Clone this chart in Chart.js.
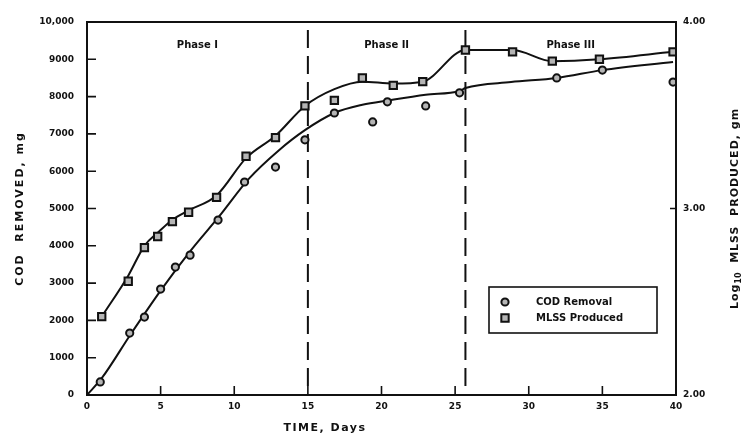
<!DOCTYPE html>
<html>
<head>
<meta charset="utf-8">
<title>COD removal and MLSS produced</title>
<script src="https://cdn.jsdelivr.net/npm/chart.js@4.4.0/dist/chart.umd.min.js"></script>
<style>
  html, body { margin: 0; padding: 0; background: #fff; }
</style>
</head>
<body>
<canvas id="codChart" width="755" height="440"></canvas>
<script>
// measured COD removal (mg) against time (days)
const codDays   = [0.9, 2.9, 3.9, 5.0, 6.0, 7.0, 8.9, 10.7, 12.8, 14.8, 16.8, 19.4, 20.4, 23.0, 25.3, 31.9, 35.0, 39.8];
const codValues = [350, 1660, 2090, 2840, 3430, 3750, 4690, 5710, 6110, 6840, 7560, 7320, 7860, 7750, 8100, 8500, 8710, 8390];

// measured log10 of MLSS produced (gm)
const mlssDays   = [1.0, 2.8, 3.9, 4.8, 5.8, 6.9, 8.8, 10.8, 12.8, 14.8, 16.8, 18.7, 20.8, 22.8, 25.7, 28.9, 31.6, 34.8, 39.8];
const mlssValues = [2.42, 2.61, 2.79, 2.85, 2.93, 2.98, 3.06, 3.28, 3.38, 3.55, 3.58, 3.70, 3.66, 3.68, 3.85, 3.84, 3.79, 3.80, 3.84];

// hand-fitted curves through each series
const codFitDays   = [0, 1, 3, 5, 7, 9, 11, 13, 14.8, 16.8, 18.7, 20.5, 23, 25.3, 25.7, 28.8, 31.9, 35, 39.8];
const codFitValues = [0, 450, 1650, 2800, 3850, 4800, 5800, 6550, 7100, 7560, 7780, 7900, 8050, 8150, 8230, 8390, 8500, 8710, 8930];
const mlssFitDays   = [1.0, 2.8, 3.9, 4.8, 5.8, 6.9, 8.8, 10.8, 12.8, 14.8, 16.8, 18.7, 20.8, 22.8, 25.7, 28.9, 31.6, 34.8, 39.8];
const mlssFitValues = [2.42, 2.64, 2.80, 2.87, 2.94, 2.99, 3.07, 3.27, 3.39, 3.55, 3.64, 3.68, 3.67, 3.68, 3.85, 3.85, 3.79, 3.80, 3.84];

// phase boundaries (days) and names
const phaseBounds = [0, 15, 25.7, 40];
const phaseNames  = ['Phase I', 'Phase II', 'Phase III'];

const seriesNames = ['COD Removal', 'MLSS Produced'];

const ink = '#111';
const FONT = 'DejaVu Sans';

const pts = (xs, ys) => xs.map((d, i) => ({ x: d, y: ys[i] }));

const circleStyle = { pointStyle: 'circle', radius: 3.6, borderWidth: 2, borderColor: ink, backgroundColor: '#b5b5b5' };
const squareStyle = { pointStyle: 'rect', radius: 5.2, borderWidth: 2, borderColor: ink, backgroundColor: '#b5b5b5' };

function drawRotated(ctx, parts, cx, cy, angle) {
  // parts: [{text, font, dy}] laid out along one baseline, centred on (cx, cy)
  ctx.save();
  ctx.translate(cx, cy);
  ctx.rotate(angle);
  ctx.textBaseline = 'middle';
  ctx.textAlign = 'left';
  let total = 0;
  parts.forEach(p => { ctx.font = p.font; ctx.letterSpacing = p.spacing || '0px'; total += ctx.measureText(p.text).width; });
  let x = -total / 2;
  parts.forEach(p => {
    ctx.font = p.font;
    ctx.letterSpacing = p.spacing || '0px';
    ctx.fillText(p.text, x, p.dy || 0);
    x += ctx.measureText(p.text).width;
  });
  ctx.restore();
}

const decor = {
  id: 'decor',
  beforeDatasetsDraw(chart) {
    const { ctx, chartArea: a, scales } = chart;
    ctx.save();
    ctx.strokeStyle = ink;
    // phase boundaries
    ctx.lineWidth = 2;
    ctx.setLineDash([18, 8]);
    phaseBounds.slice(1, -1).forEach(d => {
      const px = scales.x.getPixelForValue(d);
      ctx.beginPath();
      ctx.moveTo(px, a.top + 8);
      ctx.lineTo(px, a.bottom);
      ctx.stroke();
    });
    ctx.setLineDash([]);
    ctx.restore();
  },
  afterDraw(chart) {
    const { ctx, chartArea: a, scales } = chart;
    const { x, y, y2 } = scales;
    ctx.save();
    ctx.strokeStyle = ink;
    ctx.fillStyle = ink;

    // frame
    ctx.lineWidth = 2;
    ctx.strokeRect(a.left, a.top, a.right - a.left, a.bottom - a.top);

    // inward tick marks
    ctx.lineWidth = 1.6;
    ctx.beginPath();
    x.ticks.forEach(t => {
      const px = x.getPixelForValue(t.value);
      ctx.moveTo(px, a.bottom); ctx.lineTo(px, a.bottom - 9);
    });
    y.ticks.forEach(t => {
      const py = y.getPixelForValue(t.value);
      ctx.moveTo(a.left, py); ctx.lineTo(a.left + 9, py);
    });
    y2.ticks.forEach(t => {
      const py = y2.getPixelForValue(t.value);
      ctx.moveTo(a.right, py); ctx.lineTo(a.right - 6, py);
    });
    ctx.stroke();

    // phase names, centred in each phase
    ctx.font = `bold 10px "${FONT}"`;
    ctx.textAlign = 'center';
    ctx.textBaseline = 'middle';
    phaseNames.forEach((n, i) => {
      const mid = (phaseBounds[i] + phaseBounds[i + 1]) / 2;
      ctx.fillText(n, x.getPixelForValue(mid), a.top + 23);
    });

    // legend box in lower right of the plot
    const bx = a.right - 187, by = a.top + 265, bw = 168, bh = 46;
    ctx.lineWidth = 1.6;
    ctx.strokeRect(bx, by, bw, bh);
    const styles = [circleStyle, squareStyle];
    ctx.textAlign = 'left';
    seriesNames.forEach((n, i) => {
      const ly = by + 15 + i * 16;
      const st = styles[i];
      ctx.fillStyle = st.backgroundColor;
      ctx.strokeStyle = st.borderColor;
      ctx.lineWidth = st.borderWidth;
      Chart.helpers.drawPoint(ctx, { ...st, rotation: 0 }, bx + 16, ly);
      ctx.fillStyle = ink;
      ctx.font = `bold 10px "${FONT}"`;
      ctx.fillText(n, bx + 47, ly);
    });

    // axis titles
    const midY = (a.top + a.bottom) / 2;
    drawRotated(ctx, [{ text: 'COD  REMOVED, mg', font: `bold 11px "${FONT}"`, spacing: '2px' }], 20, midY, -Math.PI / 2);
    drawRotated(ctx, [
      { text: 'Log', font: `bold 11px "${FONT}"`, spacing: '1px' },
      { text: '10', font: `bold 8px "${FONT}"`, dy: 4 },
      { text: '  MLSS  PRODUCED, gm', font: `bold 11px "${FONT}"`, spacing: '1px' }
    ], 735, midY, -Math.PI / 2);
    drawRotated(ctx, [{ text: 'TIME, Days', font: `bold 11px "${FONT}"`, spacing: '1.5px' }], a.left + 238, 428, 0);

    ctx.restore();
  }
};

const tickFont = { family: FONT, size: 9, weight: 'bold' };

new Chart(document.getElementById('codChart').getContext('2d'), {
  type: 'scatter',
  data: {
    datasets: [
      {
        label: seriesNames[0],
        data: pts(codDays, codValues),
        yAxisID: 'y',
        showLine: false,
        ...circleStyle,
        pointRadius: circleStyle.radius,
        pointBorderWidth: circleStyle.borderWidth
      },
      {
        label: seriesNames[1],
        data: pts(mlssDays, mlssValues),
        yAxisID: 'y2',
        showLine: false,
        ...squareStyle,
        pointRadius: squareStyle.radius,
        pointBorderWidth: squareStyle.borderWidth
      },
      {
        label: 'COD fit',
        data: pts(codFitDays, codFitValues),
        yAxisID: 'y',
        showLine: true,
        borderColor: ink,
        borderWidth: 2,
        pointRadius: 0,
        cubicInterpolationMode: 'monotone',
        order: 5
      },
      {
        label: 'MLSS fit',
        data: pts(mlssFitDays, mlssFitValues),
        yAxisID: 'y2',
        showLine: true,
        borderColor: ink,
        borderWidth: 2,
        pointRadius: 0,
        cubicInterpolationMode: 'monotone',
        order: 5
      }
    ]
  },
  options: {
    responsive: false,
    animation: false,
    layout: { padding: { top: 22, left: 0, right: 0, bottom: 0 } },
    plugins: {
      legend: { display: false },
      tooltip: { enabled: false }
    },
    scales: {
      x: {
        type: 'linear',
        min: 0,
        max: 40,
        ticks: { stepSize: 5, font: tickFont, color: ink, padding: 6, maxRotation: 0 },
        grid: { display: false, drawTicks: false },
        border: { display: false },
        afterFit: s => { s.height = 45; }
      },
      y: {
        position: 'left',
        min: 0,
        max: 10000,
        ticks: {
          stepSize: 1000,
          font: tickFont,
          color: ink,
          padding: 13,
          callback: v => (v === 10000 ? '10,000' : String(v))
        },
        grid: { display: false, drawTicks: false },
        border: { display: false },
        afterFit: s => { s.width = 87; }
      },
      y2: {
        position: 'right',
        min: 2,
        max: 4,
        ticks: { stepSize: 1, font: tickFont, color: ink, padding: 7, callback: v => v.toFixed(2) },
        grid: { display: false, drawTicks: false },
        border: { display: false },
        afterFit: s => { s.width = 79; }
      }
    }
  },
  plugins: [decor]
});
</script>
</body>
</html>
